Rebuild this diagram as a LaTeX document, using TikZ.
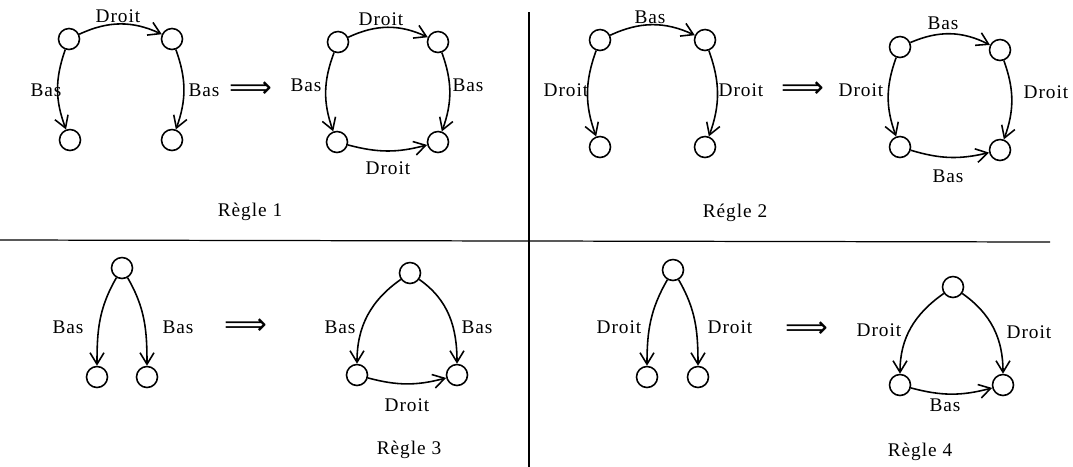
\documentclass[tikz,border=0pt]{standalone}
\usepackage{fontspec}
\setmainfont{Liberation Serif}
\newfontfamily\labfont[LetterSpace=5]{Liberation Serif}
\newfontfamily\arrowfont{DejaVu Sans}
\usetikzlibrary{arrows.meta}

\begin{document}
\begin{tikzpicture}[
  x=0.02cm, y=0.02cm,
  >={Straight Barb[length=2.3mm, width=2.8mm]},
  line width=0.9pt,
  etat/.style={circle, draw, line width=0.9pt, minimum size=0.42cm, inner sep=0pt},
  lab/.style={font=\labfont\fontsize{11}{12}\selectfont, inner sep=1pt},
  regle/.style={font=\labfont\fontsize{11}{12}\selectfont},
  impl/.style={font=\arrowfont\fontsize{17}{18}\selectfont, inner sep=0pt},
  ]

  \useasboundingbox (0,0) rectangle (1073,-467);

  % Separators
  \draw[line width=0.7pt] (529,-12) -- (529,-467);
  \draw[line width=0.7pt] (0,-240) -- (1050,-242);

  % Regle 1 (left)
  \node[etat] (r1a) at (69,-39) {};
  \node[etat] (r1b) at (172,-39) {};
  \node[etat] (r1c) at (70,-140) {};
  \node[etat] (r1d) at (172,-140) {};
  \draw[->] (r1a) to[bend left=25] (r1b);
  \draw[->] (r1a) to[bend right=20] (r1c);
  \draw[->] (r1b) to[bend left=20] (r1d);
  \node[lab] (r1t) at (118,-16) {Droit};
  \node[lab] (r1l) at (46,-90) {Bas};
  \node[lab] (r1r) at (204,-90) {Bas};
  \node[impl] (r1i) at (251,-90) {⟹};

  % Regle 1 (right)
  \node[etat] (r1e) at (338,-42) {};
  \node[etat] (r1f) at (438,-42) {};
  \node[etat] (r1g) at (337,-142) {};
  \node[etat] (r1h) at (438,-142) {};
  \draw[->] (r1e) to[bend left=25] (r1f);
  \draw[->] (r1e) to[bend right=20] (r1g);
  \draw[->] (r1f) to[bend left=20] (r1h);
  \draw[->] (r1g) to[bend right=15] (r1h);
  \node[lab] (r1u) at (381,-19) {Droit};
  \node[lab] (r1m) at (306,-85) {Bas};
  \node[lab] (r1s) at (468,-85) {Bas};
  \node[lab] (r1v) at (388,-168) {Droit};
  \node[regle] (r1n) at (250,-212) {Règle 1};

  % Regle 2 (left)
  \node[etat] (r2a) at (600,-40) {};
  \node[etat] (r2b) at (705,-40) {};
  \node[etat] (r2c) at (600,-147) {};
  \node[etat] (r2d) at (705,-147) {};
  \draw[->] (r2a) to[bend left=25] (r2b);
  \draw[->] (r2a) to[bend right=20] (r2c);
  \draw[->] (r2b) to[bend left=20] (r2d);
  \node[lab] (r2t) at (650,-17) {Bas};
  \node[lab] (r2l) at (566,-90) {Droit};
  \node[lab] (r2r) at (741,-90) {Droit};
  \node[impl] (r2i) at (803,-90) {⟹};

  % Regle 2 (right)
  \node[etat] (r2e) at (900,-47) {};
  \node[etat] (r2f) at (1000,-50) {};
  \node[etat] (r2g) at (900,-147) {};
  \node[etat] (r2h) at (1000,-150) {};
  \draw[->] (r2e) to[bend left=25] (r2f);
  \draw[->] (r2e) to[bend right=20] (r2g);
  \draw[->] (r2f) to[bend left=20] (r2h);
  \draw[->] (r2g) to[bend right=15] (r2h);
  \node[lab] (r2u) at (943,-23) {Bas};
  \node[lab] (r2m) at (861,-90) {Droit};
  \node[lab] (r2s) at (1046,-92) {Droit};
  \node[lab] (r2v) at (948,-176) {Bas};
  \node[regle] (r2n) at (735,-213) {Régle 2};

  % Regle 3 (left)
  \node[etat] (r3a) at (122,-268) {};
  \node[etat] (r3b) at (97,-377) {};
  \node[etat] (r3c) at (147,-377) {};
  \draw[->] (r3a) to[out=240, in=90] (r3b);
  \draw[->] (r3a) to[out=-60, in=90] (r3c);
  \node[lab] (r3l) at (68,-327) {Bas};
  \node[lab] (r3r) at (178,-327) {Bas};
  \node[impl] (r3i) at (246,-327) {⟹};

  % Regle 3 (right)
  \node[etat] (r3d) at (410,-273) {};
  \node[etat] (r3e) at (357,-375) {};
  \node[etat] (r3f) at (457,-375) {};
  \draw[->] (r3d) to[out=215, in=90] (r3e);
  \draw[->] (r3d) to[out=-35, in=90] (r3f);
  \draw[->] (r3e) to[bend right=15] (r3f);
  \node[lab] (r3m) at (340,-327) {Bas};
  \node[lab] (r3s) at (477,-327) {Bas};
  \node[lab] (r3v) at (407,-405) {Droit};
  \node[regle] (r3n) at (409,-450) {Règle 3};

  % Regle 4 (left)
  \node[etat] (r4a) at (673,-270) {};
  \node[etat] (r4b) at (647,-377) {};
  \node[etat] (r4c) at (698,-377) {};
  \draw[->] (r4a) to[out=240, in=90] (r4b);
  \draw[->] (r4a) to[out=-60, in=90] (r4c);
  \node[lab] (r4l) at (619,-327) {Droit};
  \node[lab] (r4r) at (730,-327) {Droit};
  \node[impl] (r4i) at (807,-330) {⟹};

  % Regle 4 (right)
  \node[etat] (r4d) at (953,-287) {};
  \node[etat] (r4e) at (900,-385) {};
  \node[etat] (r4f) at (1003,-385) {};
  \draw[->] (r4d) to[out=215, in=90] (r4e);
  \draw[->] (r4d) to[out=-35, in=90] (r4f);
  \draw[->] (r4e) to[bend right=15] (r4f);
  \node[lab] (r4m) at (879,-330) {Droit};
  \node[lab] (r4s) at (1029,-332) {Droit};
  \node[lab] (r4v) at (945,-405) {Bas};
  \node[regle] (r4n) at (920,-452) {Règle 4};

\end{tikzpicture}
\end{document}
